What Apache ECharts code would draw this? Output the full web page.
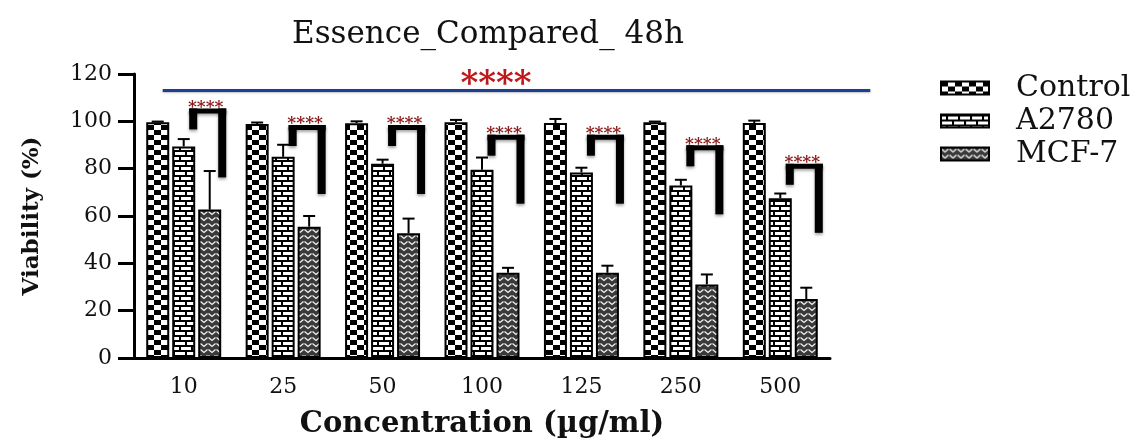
<!DOCTYPE html>
<html>
<head>
<meta charset="utf-8">
<script src="https://cdn.jsdelivr.net/npm/echarts@6/dist/echarts.min.js"></script>
<style>
html,body{margin:0;padding:0;background:#fff;overflow:hidden;}
#chart{width:1136px;height:444px;}
</style>
</head>
<body>
<div id="chart"></div>
<script>
// ---- data ----
var categories = ['10', '25', '50', '100', '125', '250', '500'];
var seriesNames = ['Control', 'A2780', 'MCF-7'];
var control    = [99.6, 98.9, 99.2, 99.6, 99.3, 99.6, 99.3];
var controlErr = [0.3, 0.6, 0.8, 1.0, 1.7, 0.3, 1.0];
var a2780      = [89.4, 85.0, 82.1, 79.5, 78.4, 72.9, 67.5];
var a2780Err   = [3.1, 5.1, 1.7, 5.2, 2.0, 2.4, 2.0];
var mcf7       = [62.7, 55.5, 52.7, 36.0, 36.0, 31.1, 24.9];
var mcf7Err    = [16.3, 4.5, 6.2, 2.1, 3.0, 4.2, 4.8];
var bracketTop = [104.4, 97.4, 97.4, 93.3, 93.3, 88.8, 81.0];
var bracketLabel = '****';
var overallLineValue = 113;
var overallLabel = '****';
var yTicks = [0, 20, 40, 60, 80, 100, 120];

// ---- pattern fills ----
function makeCanvas(w, h, draw) {
  var c = document.createElement('canvas');
  c.width = w; c.height = h;
  draw(c.getContext('2d'), w, h);
  return c;
}
var checker = makeCanvas(14, 10, function (g, w, h) {
  g.fillStyle = '#fff'; g.fillRect(0, 0, w, h);
  g.fillStyle = '#000';
  g.fillRect(0, 0, 7, 5);
  g.fillRect(7, 5, 7, 5);
});
var brick = makeCanvas(12, 10, function (g, w, h) {
  g.fillStyle = '#fff'; g.fillRect(0, 0, w, h);
  g.fillStyle = '#000';
  g.fillRect(0, 0, w, 2);
  g.fillRect(0, 5, w, 2);
  g.fillRect(5, 0, 2, 5);
  g.fillRect(11, 5, 1, 5);
  g.fillRect(0, 5, 1, 5);
});
var chevron = makeCanvas(8, 6, function (g, w, h) {
  g.fillStyle = '#3a3a3a'; g.fillRect(0, 0, w, h);
  g.strokeStyle = '#f2f2f2'; g.lineWidth = 1.3;
  g.beginPath();
  g.moveTo(0.5, 1.5); g.lineTo(4, 4.5); g.lineTo(7.5, 1.5);
  g.stroke();
});
var patterns = [checker, brick, chevron];

var BAR_W = 23, BAR_STEP = 26;
var FONT = 'DejaVu Serif';

function barSeries(name, data, idx) {
  return {
    name: name, type: 'bar', data: data,
    barWidth: BAR_W, barGap: '13%',
    itemStyle: { color: { image: patterns[idx], repeat: 'repeat' }, borderColor: '#000', borderWidth: 2 },
    z: 2
  };
}
function errSeries(vals, errs, idx) {
  var off = (idx - 1) * BAR_STEP;
  return {
    type: 'custom', name: seriesNames[idx] + ' err', z: 5,
    data: vals.map(function (v, i) { return [i, v, errs[i]]; }),
    renderItem: function (params, api) {
      var i = api.value(0), v = api.value(1), e = api.value(2);
      var p0 = api.coord([i, v]);
      var p1 = api.coord([i, v + e]);
      var x = p0[0] + off;
      return {
        type: 'group',
        children: [
          { type: 'line', shape: { x1: x, y1: p0[1], x2: x, y2: p1[1] }, style: { stroke: '#000', lineWidth: 2 } },
          { type: 'line', shape: { x1: x - 6, y1: p1[1], x2: x + 6, y2: p1[1] }, style: { stroke: '#000', lineWidth: 2 } }
        ]
      };
    }
  };
}

var chart = echarts.init(document.getElementById('chart'));
chart.setOption({
  animation: false,
  backgroundColor: '#fff',
  title: {
    text: 'Essence_Compared_ 48h',
    left: 483, top: 14, textAlign: 'center',
    textStyle: { fontFamily: FONT, fontSize: 31, fontWeight: 'normal', color: '#111' }
  },
  legend: {
    data: seriesNames,
    orient: 'vertical',
    left: 935, top: 68,
    icon: 'rect',
    itemWidth: 48, itemHeight: 13, itemGap: 3,
    itemStyle: { borderColor: '#000', borderWidth: 2 },
    textStyle: { fontFamily: FONT, fontSize: 30, lineHeight: 30, color: '#111', padding: [0, 0, 0, 22] }
  },
  grid: { left: 134, top: 74, width: 696, height: 291, containLabel: false },
  xAxis: {
    type: 'category', data: categories,
    name: 'Concentration (µg/ml)', nameLocation: 'middle', nameGap: 52,
    nameTextStyle: { fontFamily: FONT, fontSize: 29, fontWeight: 'bold', color: '#111' },
    axisLine: { lineStyle: { color: '#000', width: 3 } },
    axisTick: { alignWithLabel: true, length: 12, lineStyle: { color: '#000', width: 3 } },
    axisLabel: { fontFamily: FONT, fontSize: 22, color: '#111', margin: 18 }
  },
  yAxis: {
    type: 'value', min: yTicks[0], max: yTicks[yTicks.length - 1], interval: 20,
    name: 'Viability (%)', nameLocation: 'middle', nameGap: 90, nameRotate: 90,
    nameTextStyle: { fontFamily: FONT, fontSize: 23, fontWeight: 'bold', color: '#111' },
    axisLine: { show: true, lineStyle: { color: '#000', width: 3 } },
    axisTick: { show: true, length: 16, lineStyle: { color: '#000', width: 3 } },
    axisLabel: { fontFamily: FONT, fontSize: 22, color: '#111', margin: 22 },
    splitLine: { show: false }
  },
  series: [
    barSeries('Control', control, 0),
    barSeries('A2780', a2780, 1),
    barSeries('MCF-7', mcf7, 2),
    errSeries(control, controlErr, 0),
    errSeries(a2780, a2780Err, 1),
    errSeries(mcf7, mcf7Err, 2),
    {
      type: 'custom', name: 'brackets', z: 6,
      data: bracketTop.map(function (v, i) { return [i, v]; }),
      renderItem: function (params, api) {
        var p = api.coord([api.value(0), api.value(1)]);
        var xl = p[0] + 9.5, xr = p[0] + 38.5, y = p[1];
        var sh = { shadowColor: 'rgba(0,0,0,0.35)', shadowBlur: 3, shadowOffsetY: 2, fill: '#000' };
        return {
          type: 'group',
          children: [
            { type: 'rect', shape: { x: xl - 4, y: y - 2.5, width: xr - xl + 8, height: 5 }, style: sh },
            { type: 'rect', shape: { x: xl - 4, y: y - 2.5, width: 8, height: 21 }, style: sh },
            { type: 'rect', shape: { x: xr - 4, y: y - 2.5, width: 8, height: 69 }, style: sh },
            { type: 'text', style: { text: bracketLabel, x: (xl + xr) / 2 - 2, y: y - 12, textAlign: 'center', textVerticalAlign: 'top',
                fill: '#8b1c1c', font: 'bold 17px "DejaVu Serif"' } }
          ]
        };
      }
    },
    {
      type: 'custom', name: 'overall', z: 6, clip: false,
      data: [[0, overallLineValue]],
      renderItem: function (params, api) {
        var a = api.coord([0, api.value(1)]);
        var b = api.coord([categories.length - 1, api.value(1)]);
        var mid = api.coord([3, api.value(1)]);
        return {
          type: 'group',
          children: [
            { type: 'line', shape: { x1: a[0] - 21, y1: a[1], x2: b[0] + 90, y2: b[1] },
              style: { stroke: '#1c3f94', lineWidth: 3, shadowColor: 'rgba(0,0,0,0.25)', shadowBlur: 2, shadowOffsetY: 1 } },
            { type: 'text', style: { text: overallLabel, x: mid[0] + 14, y: a[1] - 22, textAlign: 'center', textVerticalAlign: 'top',
                fill: '#c0171b', font: 'bold 34px "DejaVu Serif"' } }
          ]
        };
      }
    }
  ]
});
</script>
</body>
</html>
